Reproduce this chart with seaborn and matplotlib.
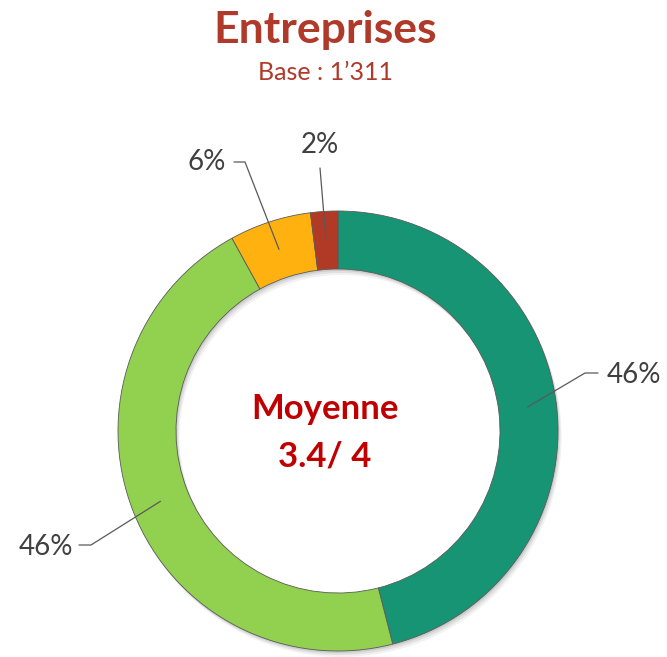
import numpy as np
import matplotlib
matplotlib.use("Agg")
import matplotlib.pyplot as plt
import seaborn as sns

# ---- data ----
categories = ["Très satisfait", "Plutôt satisfait", "Plutôt pas satisfait", "Pas du tout satisfait"]
values = [46, 46, 6, 2]
labels = ["46%", "46%", "6%", "2%"]
colors = ["#179473", "#92D050", "#FFB20F", "#B03A26"]
title = "Entreprises"
subtitle = "Base : 1\u2019311"
center_line1 = "Moyenne"
center_line2 = "3.4/ 4"

sns.set_theme(style="white")
plt.rcParams['font.family'] = ['Lato', 'DejaVu Sans']
palette = sns.color_palette(colors)

W, H = 667, 657
fig = plt.figure(figsize=(W / 100, H / 100), dpi=100)
ax = fig.add_axes([0, 0, 1, 1])

cx, cy = 338, H - 431
R = 220
width = 58

# soft shadow layers
for k, a in [(6, 0.05), (4, 0.07), (2, 0.09)]:
    ax.pie([1], colors=["#000000"], radius=R, center=(cx + k * 0.6, cy - k),
           wedgeprops=dict(width=width, alpha=a, linewidth=0))

wedges, _ = ax.pie(values, colors=palette, startangle=90, counterclock=False,
                   radius=R, center=(cx, cy),
                   wedgeprops=dict(width=width, edgecolor="#5a5a5a", linewidth=0.6))

ax.set_xlim(0, W)
ax.set_ylim(0, H)
ax.set_aspect("equal")
ax.axis("off")

# label layout (pixel coords, top-left origin): text pos, elbow, stub end, ha
layout = [
    dict(text=(607, 375), elbow=(585, 373), stub=(598, 373), ha="left"),
    dict(text=(73, 547), elbow=(91, 545), stub=(79, 545), ha="right"),
    dict(text=(226, 162), elbow=(245, 162), stub=(234, 162), ha="right"),
    dict(text=(320, 145), elbow=(320, 168), stub=None, ha="center"),
]

mid_r = R - width / 2
for w, lab, lay in zip(wedges, labels, layout):
    ang = np.deg2rad((w.theta1 + w.theta2) / 2)
    ax_x = cx + mid_r * np.cos(ang)
    ax_y = cy + mid_r * np.sin(ang)
    ex, ey = lay["elbow"][0], H - lay["elbow"][1]
    xs = [ax_x, ex]
    ys = [ax_y, ey]
    if lay["stub"] is not None:
        xs.append(lay["stub"][0])
        ys.append(H - lay["stub"][1])
    ax.plot(xs, ys, color="#595959", lw=0.9, zorder=5)
    ax.text(lay["text"][0], H - lay["text"][1], lab, ha=lay["ha"], va="center",
            fontsize=20, color="#404040")

ax.text(325, H - 30, title, ha="center", va="center", fontsize=32,
        fontweight="bold", color="#B03A2A")
ax.text(325, H - 73, subtitle, ha="center", va="center", fontsize=18,
        color="#B03A2A")
ax.text(325, H - 409, center_line1, ha="center", va="center", fontsize=25,
        fontweight="bold", color="#C00000")
ax.text(325, H - 456, center_line2, ha="center", va="center", fontsize=25,
        fontweight="bold", color="#C00000")

fig.savefig("out.png", dpi=100)
